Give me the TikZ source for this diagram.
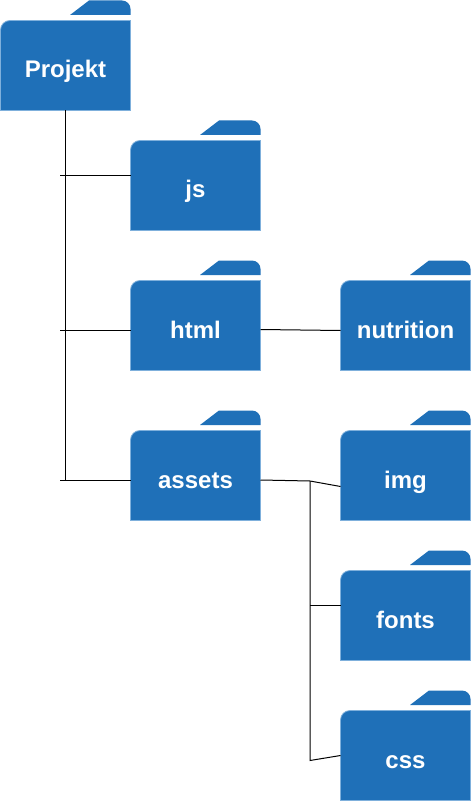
\documentclass[tikz,border=0pt]{standalone}
\usepackage{fontspec}
\setmainfont{Liberation Sans}
\definecolor{folderfill}{HTML}{1F70B8}
\definecolor{folderedge}{HTML}{7FB0DC}
\tikzset{
  x=0.75pt,y=-0.75pt,
  folderpart/.style={fill=folderfill,draw=folderedge,line width=0.6pt},
  folderbody/.style={minimum width=97.5pt,minimum height=67.5pt,inner sep=0pt,outer sep=0pt,draw=none},
  folderlabel/.style={anchor=base,text=white,font=\fontsize{18}{20}\selectfont\bfseries,inner sep=0pt},
  link/.style={draw=black,line width=0.75pt},
}
% #1 name, #2 left x, #3 top y of the body, #4 text
\newcommand{\folderat}[4]{%
  \fill[folderpart,draw=none] (#2+70,#3-5) -- (#2+89,#3-19.5) -- (#2+122,#3-19.5)
     to[out=0,in=90] (#2+130.5,#3-11) -- (#2+130.5,#3-5) -- cycle;
  \path[folderpart] (#2+0.5,#3+90.5) -- (#2+0.5,#3+10) to[out=90,in=180] (#2+10,#3+0.5)
     -- (#2+130.5,#3+0.5) -- (#2+130.5,#3+90.5) -- cycle;
  \node[folderbody] (#1) at (#2+65.5,#3+45.5) {};
  \node[folderlabel] (#1-label) at (#2+65.5,#3+58) {#4};
}
\begin{document}
\begin{tikzpicture}
\useasboundingbox (0,0) rectangle (472,802);
\folderat{projekt}{0}{20}{Projekt}
\folderat{js}{130}{140}{js}
\folderat{html}{130}{280}{html}
\folderat{assets}{130}{430}{assets}
\folderat{nutrition}{340}{280}{nutrition}
\folderat{img}{340}{430}{img}
\folderat{fonts}{340}{570}{fonts}
\folderat{css}{340}{710}{css}
% trunk and branches from Projekt
\coordinate (tickjs) at (60,175.5);
\coordinate (tickhtml) at (60,330);
\coordinate (tickassets) at (60,480);
\coordinate (trunkend) at (projekt.south |- tickassets);
\draw[link] (projekt.south) -- (trunkend);
\draw[link] (tickjs) -- (tickjs -| js.west);
\draw[link] (tickhtml) -- (tickhtml -| html.west);
\draw[link] (tickassets) -- (tickassets -| assets.west);
% html to nutrition
\coordinate (htmlout) at (html.east |- 0,329.5);
\coordinate (nutritionin) at (nutrition.west |- 0,330.5);
\draw[link] (htmlout) -- (nutritionin);
% assets branches
\coordinate (hub) at (310,481);
\coordinate (hubfonts) at (310,605);
\coordinate (hubcss) at (310,760.5);
\coordinate (imgin) at (img.west |- 0,486.5);
\coordinate (cssin) at (css.west |- 0,755.5);
\coordinate (fontsin) at (fonts.west |- hubfonts);
\coordinate (assetsout) at (assets.east |- 0,480);
\draw[link] (assetsout) -- (hub) -- (imgin);
\draw[link] (hub) -- (hubcss) -- (cssin);
\draw[link] (hubfonts) -- (fontsin);
\end{tikzpicture}
\end{document}
